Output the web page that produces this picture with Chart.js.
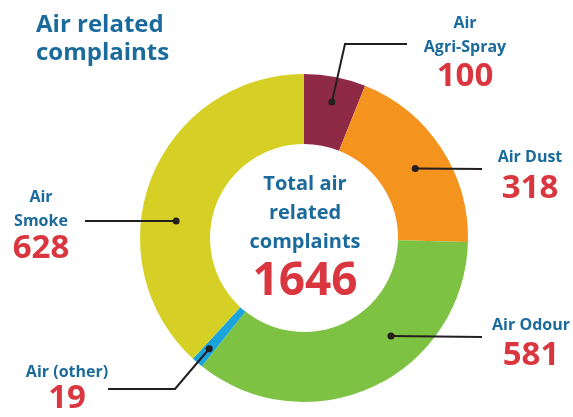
<!DOCTYPE html>
<html>
<head>
<meta charset="utf-8">
<script src="https://cdn.jsdelivr.net/npm/chart.js@4.4.1/dist/chart.umd.min.js"></script>
<style>
  html, body { margin: 0; padding: 0; background: #fff; }
  #wrap { position: relative; width: 573px; height: 417px; }
</style>
</head>
<body>
<div id="wrap"><canvas id="airChart" width="573" height="417"></canvas></div>
<script>
// Air related complaints, clockwise from 12 o'clock
const categories = ['Air Agri-Spray', 'Air Dust', 'Air Odour', 'Air (other)', 'Air Smoke'];
const complaintCounts = [100, 318, 581, 19, 628];
const labelLines = [['Air', 'Agri-Spray'], ['Air Dust'], ['Air Odour'], ['Air (other)'], ['Air', 'Smoke']];
const sliceColours = ['#8e2a45', '#f5931f', '#7dc242', '#1ba3dc', '#d6cf26'];

const BLUE = '#1b6a9c';
const RED = '#d9363f';
const FONT = '"Open Sans", "DejaVu Sans", sans-serif';

// where each leader line starts inside its slice (t = along arc, r = across ring)
// and where it runs to; text block anchored to the label x/y
const callouts = [
    { t: 0.53, r: 0.64, path: [[345, 44], [407, 44]], tx: 465, ty: [23, 47, 77] },
    { t: 0.52, r: 0.53, path: [[482, 169]], tx: 530, ty: [157, 189] },
    { t: 0.37, r: 0.53, path: [[482, 337]], tx: 531, ty: [325, 356] },
    { t: 0.50, r: 0.74, path: [[175, 389], [108, 389]], tx: 67, ty: [372, 399] },
    { t: 0.40, r: 0.50, path: [[85, 221]], tx: 41, ty: [197, 221, 249] },
];

const total = complaintCounts.reduce((a, b) => a + b, 0);

const calloutPlugin = {
    id: 'callouts',
    afterDatasetsDraw(chart) {
        const ctx = chart.ctx;
        const arcs = chart.getDatasetMeta(0).data;
        ctx.save();

        arcs.forEach((arc, i) => {
            const p = arc.getProps(['x', 'y', 'startAngle', 'endAngle', 'innerRadius', 'outerRadius'], true);
            const c = callouts[i];
            const a = p.startAngle + c.t * (p.endAngle - p.startAngle);
            const rad = p.innerRadius + c.r * (p.outerRadius - p.innerRadius);
            const sx = p.x + Math.cos(a) * rad;
            const sy = p.y + Math.sin(a) * rad;

            ctx.strokeStyle = '#231f20';
            ctx.lineWidth = 2;
            ctx.beginPath();
            ctx.moveTo(sx, sy);
            c.path.forEach(([x, y]) => ctx.lineTo(x, y));
            ctx.stroke();

            ctx.fillStyle = '#231f20';
            ctx.beginPath();
            ctx.arc(sx, sy, 3.5, 0, Math.PI * 2);
            ctx.fill();

            // label text
            ctx.textAlign = 'center';
            ctx.textBaseline = 'middle';
            ctx.fillStyle = BLUE;
            ctx.font = 'bold 16px ' + FONT;
            const lines = labelLines[i];
            lines.forEach((ln, k) => ctx.fillText(ln, c.tx, c.ty[k]));
            ctx.fillStyle = RED;
            ctx.font = 'bold 33px ' + FONT;
            ctx.fillText(String(complaintCounts[i]), c.tx, c.ty[lines.length]);
        });

        // centre text
        const cx = arcs[0].x, cy = arcs[0].y;
        ctx.textAlign = 'center';
        ctx.textBaseline = 'middle';
        ctx.fillStyle = BLUE;
        ctx.font = 'bold 20px ' + FONT;
        ctx.fillText('Total air', cx + 1, cy - 54);
        ctx.fillText('related', cx + 1, cy - 25);
        ctx.fillText('complaints', cx + 1, cy + 4);
        ctx.fillStyle = RED;
        ctx.font = 'bold 46px ' + FONT;
        ctx.fillText(String(total), cx + 1, cy + 44);

        // title
        ctx.textAlign = 'left';
        ctx.fillStyle = BLUE;
        ctx.font = 'bold 24px ' + FONT;
        ctx.fillText('Air related', 36, 25);
        ctx.fillText('complaints', 36, 53);

        ctx.restore();
    },
};

new Chart(document.getElementById('airChart').getContext('2d'), {
    type: 'doughnut',
    data: {
        labels: categories,
        datasets: [{
            data: complaintCounts,
            backgroundColor: sliceColours,
            borderWidth: 0,
        }],
    },
    options: {
        responsive: false,
        animation: false,
        cutout: 94,
        layout: { padding: { left: 140, right: 105, top: 74, bottom: 15 } },
        plugins: {
            legend: { display: false },
            tooltip: { enabled: false },
        },
    },
    plugins: [calloutPlugin],
});
</script>
</body>
</html>
